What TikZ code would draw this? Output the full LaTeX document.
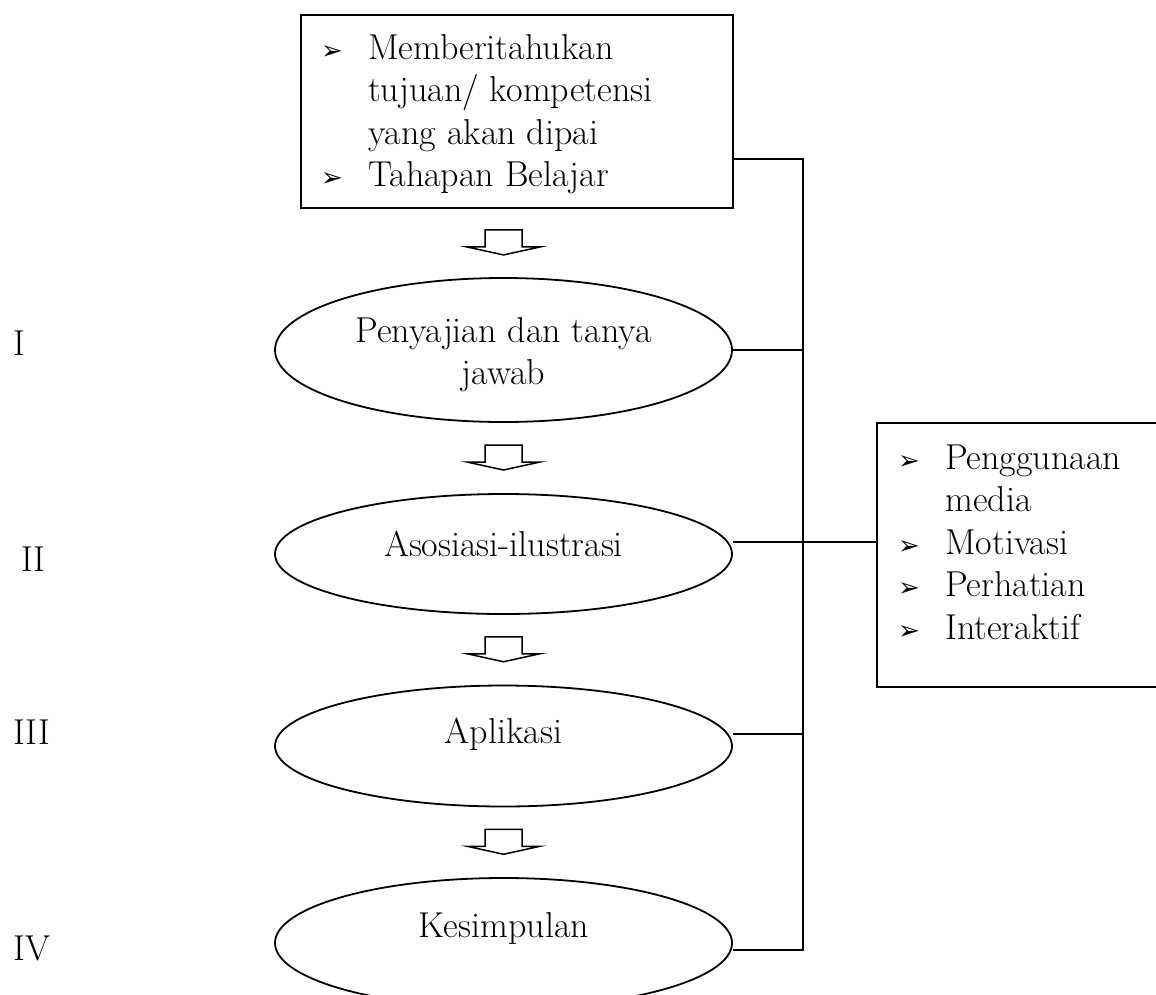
\documentclass[tikz,border=0pt]{standalone}
\usepackage{fontspec}
\newfontfamily\symfont{DejaVu Sans}
\usetikzlibrary{shapes.geometric,calc}
\newcommand{\bul}{{\symfont\fontsize{26}{26}\selectfont ➢}}
\tikzset{
  boxnode/.style={draw, line width=1.8pt, rectangle, inner sep=0pt, anchor=north west},
  ovalnode/.style={draw, line width=1.8pt, ellipse, inner sep=0pt, minimum width=457pt},
  txt/.style={inner sep=0pt, font=\fontsize{36}{42.5}\selectfont},
  link/.style={line width=1.7pt},
  pics/downarrow/.style={code={\draw[line width=1.5pt, line join=miter]
     (-18.5,-13) -- (18.5,-13) -- (18.5,4) -- (36.5,4) -- (0,12) -- (-36.5,4) -- (-18.5,4) -- cycle;}}
}
\begin{document}
\begin{tikzpicture}[x=1pt,y=-1pt]
\useasboundingbox (0,0) rectangle (1156,994);
\clip (0,0) rectangle (1156,994);

% boxes
\node[boxnode, minimum width=432pt, minimum height=193pt] (top) at (300,14) {};
\node[boxnode, minimum width=300pt, minimum height=264pt] (side) at (876,422) {};

\node[txt, anchor=north west] (toptext) at (321,29.25)
  {\begin{tabular}{@{}p{47pt}@{}l@{}}\bul & Memberitahukan\\ & tujuan/ kompetensi\\ & yang akan dipai\\ \bul & Tahapan Belajar\end{tabular}};
\node[txt, anchor=north west] (sidetext) at (898,439.25)
  {\begin{tabular}{@{}p{47pt}@{}l@{}}\bul & Penggunaan\\ & media\\ \bul & Motivasi\\ \bul & Perhatian\\ \bul & Interaktif\end{tabular}};

% ellipses
\node[ovalnode, minimum height=144pt] (e1) at (503.5,350) {};
\node[ovalnode, minimum height=120pt] (e2) at (503.5,554) {};
\node[ovalnode, minimum height=121pt] (e3) at (503.5,746) {};
\node[ovalnode, minimum height=130pt] (e4) at (503.5,943) {};

\node[txt, anchor=north] (t1) at (503.5,312.25)
  {\begin{tabular}{@{}c@{}}Penyajian dan tanya\\ jawab\end{tabular}};
\node[txt, anchor=base] (t2) at (503.5,556) {Asosiasi-ilustrasi};
\node[txt, anchor=base] (t3) at (503.5,743) {Aplikasi};
\node[txt, anchor=base] (t4) at (503.5,937) {Kesimpulan};

% stage labels
\node[txt, anchor=base west] (l1) at (13,355) {I};
\node[txt, anchor=base west] (l2) at (21,571) {II};
\node[txt, anchor=base west] (l3) at (13,744) {III};
\node[txt, anchor=base west] (l4) at (13,960) {IV};

% block arrows
\pic at ($(e1.north)!0.5!(e1.north |- top.south)$) {downarrow};
\pic at ($(e2.north)!0.5!(e1.south)$) {downarrow};
\pic at ($(e3.north)!0.5!(e2.south)$) {downarrow};
\pic at ($(e4.north)!0.5!(e3.south)$) {downarrow};

% connectors
\coordinate (bus0) at (803,159);
\coordinate (bus1) at (803,350);
\coordinate (bus2) at (803,542);
\coordinate (bus3) at (803,734);
\coordinate (bus4) at (803,950);
\draw[link] (top.east |- bus0) -- (bus0) -- (bus4) -- (e4.east |- bus4);
\draw[link] (e1.east) -- (bus1);
\draw[link] (e2.east |- bus2) -- (side.west |- bus2);
\draw[link] (e3.east |- bus3) -- (bus3);
\end{tikzpicture}
\end{document}
